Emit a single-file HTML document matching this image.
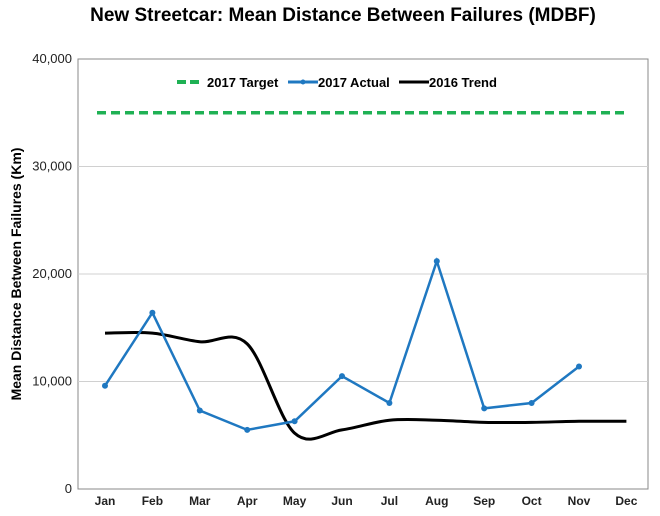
<!DOCTYPE html>
<html><head><meta charset="utf-8"><style>
body{margin:0;background:#fff;}
svg text{font-family:"Liberation Sans",Arial,sans-serif;}
</style></head><body>
<svg id="c" width="660" height="511" xmlns="http://www.w3.org/2000/svg">
<text x="343" y="21" text-anchor="middle" font-size="19" font-weight="bold" fill="#000">New Streetcar: Mean Distance Between Failures (MDBF)</text>
<rect x="78" y="59" width="570" height="430" fill="none" stroke="#888" stroke-width="1"/>
<g id="grid"></g><g id="axes"></g><g id="series"></g>
<text transform="translate(21,274) rotate(-90)" text-anchor="middle" font-size="14" font-weight="bold" fill="#000">Mean Distance Between Failures (Km)</text>
<g>
<g><line x1="177" y1="82" x2="201" y2="82" stroke="#1fb154" stroke-width="4" stroke-dasharray="9,4"/><text x="207" y="87" font-size="13" font-weight="bold">2017 Target</text></g>
<g><line x1="288" y1="82" x2="318" y2="82" stroke="#1f78c1" stroke-width="3"/><circle cx="303" cy="82" r="2.5" fill="#1f78c1"/><text x="318" y="87" font-size="13" font-weight="bold">2017 Actual</text></g>
<g><line x1="399" y1="82" x2="429" y2="82" stroke="#000" stroke-width="3"/><text x="429" y="87" font-size="13" font-weight="bold">2016 Trend</text></g>
</g>
</svg>
<script>
const months=["Jan","Feb","Mar","Apr","May","Jun","Jul","Aug","Sep","Oct","Nov","Dec"];
const target=[35000,35000,35000,35000,35000,35000,35000,35000,35000,35000,35000,35000];
const actual=[9600,16400,7300,5500,6300,10500,8000,21200,7500,8000,11400];
const trend=[14500,14500,13700,13500,5200,5500,6400,6400,6200,6200,6300,6300];
const yTicks=[0,10000,20000,30000,40000];
const yTickLabels=["0","10,000","20,000","30,000","40,000"];
const NS="http://www.w3.org/2000/svg";
const x=i=>105+i*47.4;
const y=v=>489-v/40000*430;
function mk(t,a,p){const e=document.createElementNS(NS,t);for(const k in a)e.setAttribute(k,a[k]);p.appendChild(e);return e;}
const grid=document.getElementById('grid'),axes=document.getElementById('axes'),ser=document.getElementById('series');
yTicks.forEach((v,i)=>{
 if(v>0&&v<40000){const l=mk('line',{x1:78,x2:648,y1:y(v),y2:y(v),stroke:'#d0d0d0'},grid);
 
 }
 const t=mk('text',{x:72,y:y(v)+4,'text-anchor':'end','font-size':13,fill:'#222'},axes);t.textContent=yTickLabels[i];
 
 
});
months.forEach((m,i)=>{const t=mk('text',{x:x(i),y:505,'text-anchor':'middle','font-size':12,'font-weight':'bold',fill:'#222'},axes);t.textContent=m;
 
 });
const tg=mk('path',{stroke:'#1fb154','stroke-width':3.5,'stroke-dasharray':'9,5',fill:'none'},ser);
tg.setAttribute('d','M'+(x(0)-8)+' '+y(target[0])+' '+target.map((v,i)=>'L'+x(i)+' '+y(v)).join(' '));


const pts=trend.map((v,i)=>[x(i),y(v)]);
let d='M'+pts[0][0]+' '+pts[0][1];
for(let i=0;i<pts.length-1;i++){const p0=pts[i-1]||pts[i],p1=pts[i],p2=pts[i+1],p3=pts[i+2]||p2;
 d+=' C'+(p1[0]+(p2[0]-p0[0])/6)+' '+(p1[1]+(p2[1]-p0[1])/6)+' '+(p2[0]-(p3[0]-p1[0])/6)+' '+(p2[1]-(p3[1]-p1[1])/6)+' '+p2[0]+' '+p2[1];}
const tr=mk('path',{d:d,stroke:'#000','stroke-width':3,fill:'none'},ser);


const ac=mk('path',{d:actual.map((v,i)=>(i?'L':'M')+x(i)+' '+y(v)).join(' '),stroke:'#1f78c1','stroke-width':2.5,fill:'none'},ser);


actual.forEach((v,i)=>{const c=mk('circle',{cx:x(i),cy:y(v),r:3,fill:'#1f78c1'},ser);
 
 });
</script>
</body></html>
